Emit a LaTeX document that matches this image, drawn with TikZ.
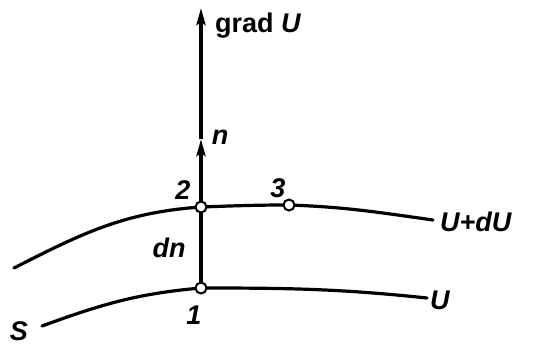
\documentclass[tikz,border=0pt]{standalone}
\usepackage{fontspec}
\setmainfont{Liberation Sans}
\usetikzlibrary{arrows.meta}

\begin{document}
\begin{tikzpicture}[x=1pt,y=1pt,
  curve/.style={line width=3.2pt, line cap=round},
  vec/.style={line width=3.6pt, -{Stealth[length=17pt,width=9pt,inset=3pt]}},
  dot/.style={circle, draw, line width=2pt, fill=white, inner sep=0pt, minimum size=11pt},
  lbl/.style={font=\fontsize{27}{27}\selectfont\bfseries\itshape, inner sep=0pt},
]
\useasboundingbox (0,0) rectangle (534,346);
\coordinate (p1) at (201,58);
\coordinate (p2) at (201,139);
\coordinate (p3) at (289,141);
\coordinate (nmid) at (201,207);
\coordinate (top) at (201,338);
\coordinate (uL) at (14,78);
\coordinate (uR) at (433,126);
\coordinate (sL) at (42,20);
\coordinate (sR) at (427,48);

% level surfaces
\draw[curve] (uL) to[out=27,in=184] (p2) to[out=2,in=180] (p3) to[out=-2,in=172] (uR);
\draw[curve] (sL) to[out=20,in=185] (p1) to[out=0,in=174] (sR);

% normal and gradient
\draw[vec] (p1) -- (nmid);
\draw[vec] (nmid) -- (top);

\node[dot] (n1) at (p1) {};
\node[dot] (n2) at (p2) {};
\node[dot] (n3) at (p3) {};

\node[lbl] (lS) at (19,15) {S};
\node[lbl] (l1) at (194,31) {1};
\node[lbl] (l2) at (183,156) {2};
\node[lbl] (l3) at (278,158) {3};
\node[lbl] (ldn) at (169,98) {dn};
\node[lbl] (ln) at (220,209) {n};
\node[lbl, anchor=west] (lUdU) at (440,124) {U+dU};
\node[lbl, anchor=west] (lU) at (430,46) {U};
\node[lbl, anchor=base west] (lgrad) at (215,313) {\upshape grad \itshape U};
\end{tikzpicture}
\end{document}
